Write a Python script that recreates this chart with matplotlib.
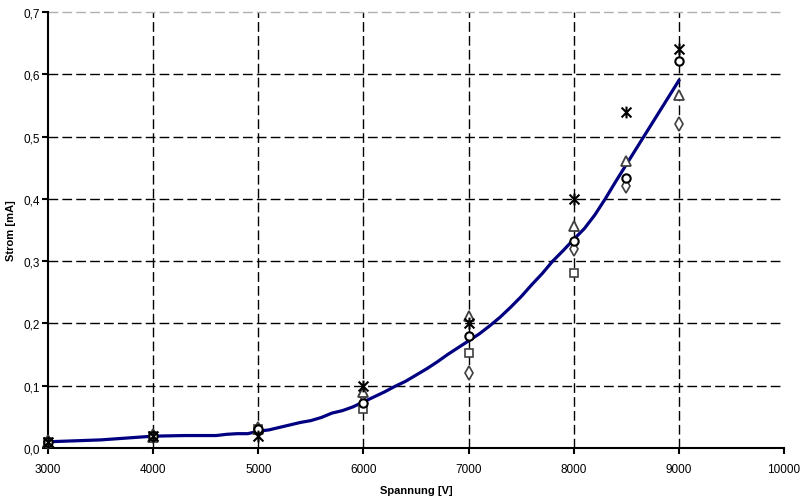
import matplotlib.pyplot as plt
import numpy as np
from matplotlib.path import Path
from matplotlib.ticker import FuncFormatter

plt.rcParams['font.family'] = ['Liberation Sans', 'DejaVu Sans']

# Messpunkte (Spannung in V, Strom in mA)
u_mess = [3000, 4000, 5000, 6000, 7000, 8000, 8500, 9000]
i_stern = [0.010, 0.020, 0.020, 0.100, 0.200, 0.400, 0.540, 0.641]
i_kreis = [0.010, 0.020, 0.030, 0.072, 0.180, 0.332, 0.433, 0.621]
i_dreieck = [0.010, 0.018, 0.030, 0.090, 0.212, 0.357, 0.460, 0.566]
i_raute = [0.010, 0.020, 0.030, 0.085, 0.120, 0.320, 0.420, 0.520]
u_quadrat = [3000, 4000, 5000, 6000, 7000, 8000]
i_quadrat = [0.010, 0.020, 0.030, 0.062, 0.152, 0.281]

# Kennlinie
u_kurve = [3000, 3500, 4000, 4300, 4600, 4700, 4800, 4900, 5000, 5100, 5200,
           5300, 5400, 5500, 5600, 5700, 5800, 5900, 6000, 6100, 6200, 6300,
           6400, 6500, 6600, 6700, 6800, 6900, 7000, 7100, 7200, 7300, 7400,
           7500, 7600, 7700, 7800, 7900, 8000, 8100, 8200, 8300, 8400, 8500,
           8600, 8700, 8800, 8900, 9000]
i_kurve = [0.010, 0.013, 0.019, 0.020, 0.020, 0.022, 0.023, 0.023, 0.027, 0.029,
           0.033, 0.037, 0.041, 0.044, 0.049, 0.056, 0.060, 0.066, 0.074, 0.082,
           0.090, 0.099, 0.107, 0.117, 0.127, 0.138, 0.150, 0.161, 0.172, 0.183,
           0.196, 0.210, 0.226, 0.243, 0.262, 0.280, 0.300, 0.317, 0.335, 0.352,
           0.374, 0.400, 0.428, 0.455, 0.482, 0.509, 0.536, 0.563, 0.590]

# Stern-Marker: x mit senkrechtem Strich
stern = Path([(-1, -1), (1, 1), (-1, 1), (1, -1), (0, -1.2), (0, 1.2)],
             [Path.MOVETO, Path.LINETO, Path.MOVETO, Path.LINETO,
              Path.MOVETO, Path.LINETO])

fig = plt.figure(figsize=(8.09, 5.02), dpi=100)
ax = fig.add_axes([48 / 809, 53 / 502, 736 / 809, 436 / 502])

ax.plot(u_kurve, i_kurve, color='#000080', linewidth=2.3, zorder=3)

grau = '#404040'
ax.plot(u_quadrat, i_quadrat, 's', ms=6, mfc='white', mec=grau, mew=1.2,
        zorder=4, clip_on=False)
ax.plot(u_mess, i_raute, 'd', ms=7, mfc='white', mec=grau, mew=1.2,
        zorder=4, clip_on=False)
ax.plot(u_mess, i_dreieck, '^', ms=7, mfc='white', mec=grau, mew=1.3,
        zorder=4, clip_on=False)
ax.plot(u_mess, i_kreis, 'o', ms=6, mfc='white', mec='black', mew=1.5,
        zorder=5, clip_on=False)
ax.plot(u_mess, i_stern, marker=stern, ls='none', ms=8.5, mec='black', mew=1.5,
        zorder=5, clip_on=False)

ax.set_xlim(3000, 10000)
ax.set_ylim(0, 0.7)
ax.set_xticks(np.arange(3000, 10001, 1000))
ax.set_yticks(np.arange(0, 0.71, 0.1))
ax.yaxis.set_major_formatter(FuncFormatter(lambda v, p: f'{v:.1f}'.replace('.', ',')))

# Gitternetz
for u in range(4000, 10000, 1000):
    ax.axvline(u, color='black', linewidth=1, dashes=(7, 3), zorder=1)
for i in np.arange(0.1, 0.65, 0.1):
    ax.axhline(i, color='black', linewidth=1, dashes=(7, 3), zorder=1)
ax.axhline(0.7, xmax=0.995, color='#b0b0b0', linewidth=1, dashes=(7, 3),
           zorder=1, clip_on=False)

for s in ['top', 'right']:
    ax.spines[s].set_visible(False)
for s in ['left', 'bottom']:
    ax.spines[s].set_linewidth(1.5)

ax.tick_params(axis='both', direction='out', length=4, width=1.5,
               labelsize=8.5, pad=2)
ax.tick_params(axis='x', pad=7)

ax.set_xlabel('Spannung [V]', fontsize=8, fontweight='bold', labelpad=7)
ax.set_ylabel('Strom [mA]', fontsize=8, fontweight='bold', labelpad=5)

plt.savefig('out.png', dpi=100)
